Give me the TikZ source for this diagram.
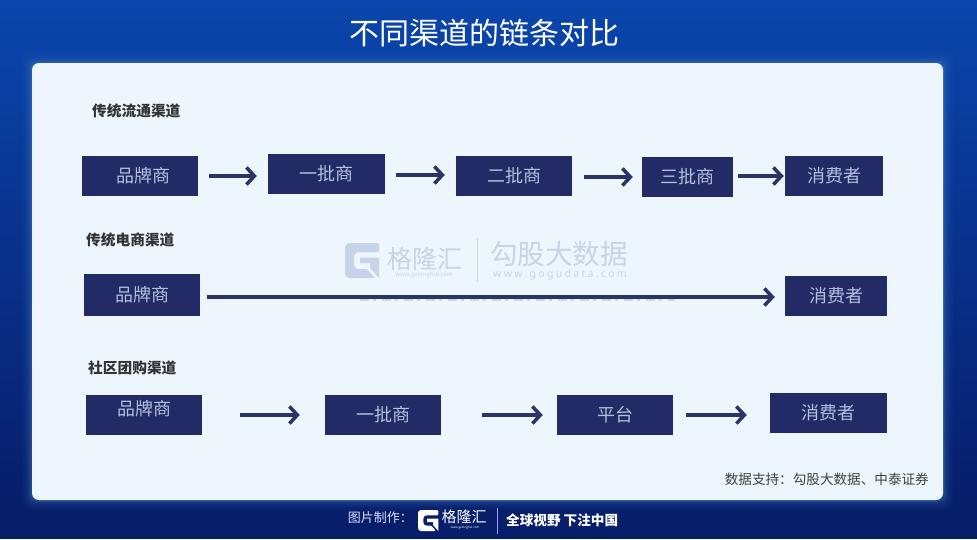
\documentclass[tikz,border=0pt]{standalone}
\usepackage{fontspec}
\usetikzlibrary{arrows.meta,calc}
\setmainfont{Noto Sans CJK SC}
\newfontfamily\gogu[LetterSpace=22]{Noto Sans}
\newcommand\fs[1]{\fontsize{#1}{#1}\selectfont}
\definecolor{boxc}{HTML}{222B65}
\definecolor{boxt}{HTML}{B4BFDC}
\definecolor{arrowc}{HTML}{2A3469}
\definecolor{cardc}{HTML}{EEF6FD}
\definecolor{bgtop}{HTML}{0A46AC}
\definecolor{bgmid}{HTML}{09318C}
\definecolor{bgbot}{HTML}{071E6A}
\definecolor{wm}{HTML}{C6D3E8}
\definecolor{glow}{HTML}{4C86C8}
\newcommand\glogo[4]{\begin{scope}[shift={(#1,#2)},scale=#3]
\fill[#4,rounded corners=1.2pt] (0,3)--(3,0)--(34,0)--(34,9)--(12,9)--(9,12)--(9,23)--(12,26)--(22,26)--(30,35)--(3,35)--(0,32)--cycle;
\fill[#4] (15,14.5)--(34,14.5)--(34,35)--(25,25)--(25,20)--(15,20)--cycle;
\end{scope}}
\tikzset{x=1pt,y=-1pt,
 flowbox/.style={fill=boxc,text=boxt,inner sep=0pt,anchor=center,font=\fs{18}},
 flowarrow/.style={draw=arrowc,line width=3.5pt,-{Straight Barb[length=8pt,width=17pt,line width=3.5pt]}},
 heading/.style={anchor=west,inner sep=0pt,font=\bfseries\fs{14.7},text=black!80}}
\newcommand\fb[6]{\node[flowbox,minimum width=#4-#3,minimum height=#6-#5] (#1) at ({(#3+#4)/2},{(#5+#6)/2}) {#2};}
\begin{document}
\begin{tikzpicture}
\useasboundingbox (0,0) rectangle (977,539);
\fill[bgbot] (0,0) rectangle (977,539);
\path[top color=bgtop,bottom color=bgbot,middle color=bgmid] (0,0) rectangle (977,505);
% soft glow round the card
\foreach \g/\o in {10/.05,7/.07,5/.09,3/.12,1.5/.18}{
 \fill[glow,opacity=\o,rounded corners=8pt] (32-\g,63-\g) rectangle (943+\g,500+\g);}
\node[fill=cardc,rounded corners=7pt,minimum width=911pt,minimum height=437pt,inner sep=0pt] (card) at (487.5,281.5) {};
% watermark
\glogo{345}{243}{1}{wm}
\node[inner sep=0pt,text=wm,font=\fs{25}] (wmA) at (424.5,259) {格隆汇};
\node[inner sep=0pt,text=wm,font=\fs{6}] (wmB) at (424,275) {www.gelonghui.com};
\draw[wm,line width=.8pt] (477.5,238)--(477.5,282);
\node[inner sep=0pt,text=wm,font=\fs{27.6}] (wmC) at (559,254) {勾股大数据};
\node[inner sep=0pt,text=wm,font=\gogu\fs{10.5}] (wmD) at (560,275) {www.gogudata.com};
% headings
\node[heading] (h1) at (92,111) {传统流通渠道};
\node[heading] (h2) at (86,240) {传统电商渠道};
\node[heading] (h3) at (88,368) {社区团购渠道};
% row 1
\fb{a1}{\hspace{7pt}品牌商}{82}{198}{156}{196}
\fb{a2}{一批商}{268}{385}{154}{194}
\fb{a3}{二批商}{456}{572}{156}{196}
\fb{a4}{三批商}{642}{733}{157}{197}
\fb{a5}{消费者}{785}{883}{156}{196}
\draw[flowarrow] ([xshift=11pt,yshift=0pt]a1.east) -- ([xshift=-11pt,yshift=-2pt]a2.west);
\draw[flowarrow] ([xshift=11pt,yshift=-1pt]a2.east) -- ([xshift=-11pt,yshift=1pt]a3.west);
\draw[flowarrow] ([xshift=12pt,yshift=-1pt]a3.east) -- ([xshift=-9pt]a4.west);
\draw[flowarrow] ([xshift=5pt,yshift=1pt]a4.east) -- ([xshift=-1pt]a5.west);
% row 2
\fb{b1}{品牌商}{84}{200}{274}{316}
\fb{b2}{消费者}{785}{887}{276}{316}
\draw[flowarrow] ([xshift=7pt,yshift=-2pt]b1.east) -- ([xshift=-10pt,yshift=-1pt]b2.west);
\draw[black!45,opacity=.3,line width=2pt,dash pattern=on 9pt off 4pt on 3pt off 6pt] (360,299.5)--(675,299.5);
% row 3
\fb{c1}{\raisebox{6pt}[\height][\depth]{品牌商}}{86}{202}{395}{435}
\fb{c2}{一批商}{325}{441}{395}{435}
\fb{c3}{平台}{557}{673}{395}{435}
\fb{c4}{消费者}{770}{887}{393}{433}
\draw[flowarrow] ([xshift=38pt]c1.east) -- ([xshift=-25pt]c2.west);
\draw[flowarrow] ([xshift=41pt]c2.east) -- ([xshift=-14pt]c3.west);
\draw[flowarrow] ([xshift=13pt]c3.east) -- ([xshift=-23pt,yshift=-2pt]c4.west);
% title, source, footer
\node[inner sep=0pt,text=white,font=\fs{30}] (title) at (484,33) {不同渠道的链条对比};
\node[anchor=east,inner sep=0pt,text=black!75,font=\fs{13.6}] (src) at (929,479) {数据支持：勾股大数据、中泰证券};
\node[anchor=east,inner sep=0pt,text=white!85!blue,font=\fs{13}] (f1) at (413,518) {图片制作：};
\glogo{418}{510}{.6}{white}
\node[inner sep=0pt,text=white,font=\fs{15}] (f2) at (464,517) {格隆汇};
\node[inner sep=0pt,text=white,font=\fs{3}] (f3) at (465,528) {www.gelonghui.com};
\draw[white!60!blue,line width=.6pt] (497,508)--(497,534);
\node[anchor=west,inner sep=0pt,text=white,font=\bfseries\fs{13.6}] (f4) at (506,520.5) {全球视野 下注中国};
\end{tikzpicture}
\end{document}
